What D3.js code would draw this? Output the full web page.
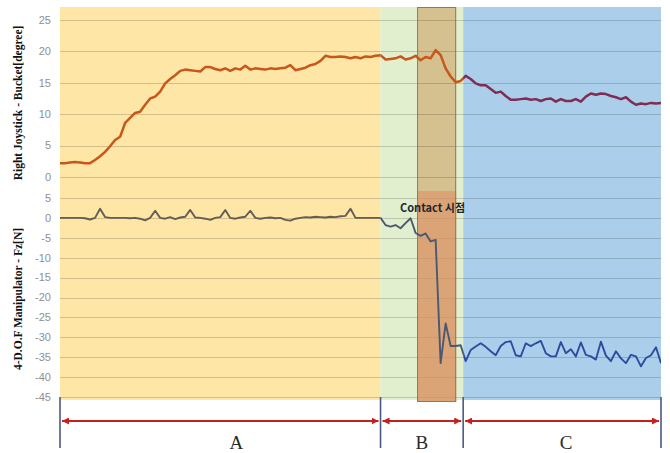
<!DOCTYPE html>
<html>
<head>
<meta charset="utf-8">
<script src="https://cdn.jsdelivr.net/npm/d3@7"></script>
<style>
  body { margin: 0; background: #fff; }
</style>
</head>
<body>
<div id="chart"></div>
<script>
// sampled values (one sample every ~5px of the original time axis)
var bucketAngle = [
  2.2, 2.2, 2.3, 2.4, 2.3, 2.2, 2.2, 2.7, 3.3, 4.0,
  4.9, 5.9, 6.4, 8.6, 9.4, 10.2, 10.4, 11.5, 12.5, 12.8,
  13.6, 14.9, 15.6, 16.2, 16.9, 17.1, 17.0, 16.9, 16.8, 17.5,
  17.5, 17.2, 17.0, 17.3, 16.9, 17.3, 17.1, 17.7, 17.1, 17.3,
  17.2, 17.1, 17.3, 17.2, 17.3, 17.4, 17.8, 17.0, 17.2, 17.4,
  17.8, 18.0, 18.5, 19.3, 19.1, 19.1, 19.2, 19.1, 18.9, 19.1,
  18.9, 19.2, 19.1, 19.3, 19.4, 18.7, 18.8, 18.9, 19.2, 18.7,
  18.9, 19.3, 18.6, 19.1, 18.9, 20.2, 19.4, 17.3, 16.0, 15.1,
  15.3, 16.1, 15.6, 14.9, 14.6, 14.6, 14.0, 13.4, 13.6, 12.9,
  12.3, 12.3, 12.4, 12.5, 12.3, 12.4, 12.1, 12.4, 12.5, 12.0,
  12.4, 12.1, 12.1, 12.4, 12.0, 12.8, 13.3, 13.1, 13.3, 13.2,
  12.9, 12.7, 12.4, 12.7, 12.0, 11.5, 11.7, 11.6, 11.8, 11.7,
  11.8
];

var forceFz = [
  0, 0, 0, 0, 0, -0.1, -0.4, 0, 2.3, 0.2,
  0, 0, 0, 0, -0.1, 0, -0.2, -0.6, 0, 1.8,
  0, -0.2, 0.2, -0.3, 0.1, 0.3, 2.0, 0.1, 0, -0.2,
  -0.5, 0, 0.2, 2.0, 0, -0.2, 0.1, 0.3, 1.8, 0,
  -0.2, 0, 0.1, -0.1, 0, -0.5, -0.7, -0.2, 0, 0.2,
  0.1, 0.3, 0.2, 0.1, 0.3, 0.2, 0.4, 0.5, 2.3, 0,
  0, 0, 0, 0, 0, -1.8, -2.2, -1.8, -2.6, -1.3,
  -0.1, -3.8, -4.5, -3.9, -5.9, -5.5, -36.5, -26.5, -32.2, -32.2,
  -32.0, -36.0, -33.2, -32.3, -31.5, -32.4, -33.5, -34.5, -32.2, -31.2,
  -31.0, -34.5, -34.8, -31.5, -32.2, -31.5, -30.9, -34.0, -34.8, -34.8,
  -31.2, -34.0, -33.0, -34.8, -31.3, -34.4, -34.8, -35.6, -31.1, -34.6,
  -36.0, -33.5, -35.3, -36.5, -34.4, -34.8, -37.3, -35.2, -34.5, -32.5,
  -36.5
];

var topTicks = [0, 5, 10, 15, 20, 25];
var bottomTicks = [5, 0, -5, -10, -15, -20, -25, -30, -35, -40, -45];

// phases in sample units
var phaseNames = ["A", "B", "C"];
var phaseStart = [0, 64, 80.5];
var phaseEnd = [64, 80.5, 120];
var contactWindow = [71.3, 79.1];
var contactLabel = "Contact 시점";

var topTitle = "Right Joystick - Bucket[degree]";
var bottomTitle = "4-D.O.F Manipulator - Fz[N]";

var W = 670, H = 453;
var plotTop = 7, plotBottom = 400;

var svg = d3.select("#chart")
  .append("svg")
    .attr("width", W)
    .attr("height", H);

var x = d3.scaleLinear().domain([0, bucketAngle.length - 1]).range([60, 661]);
var yTop = d3.scaleLinear().domain([0, 25]).range([177, 20]);
var yBot = d3.scaleLinear().domain([-45, 5]).range([397, 198]);

var phaseFill = ["#fde6a6", "#e2efcf", "#abcfea"];
var topColor = ["#c9561b", "#c9561b", "#7f2d52"];
var botColor = ["#655d55", "#4a5870", "#2c4c9e"];

// background shading per phase
svg.selectAll("rect.phase")
  .data(phaseNames)
  .enter().append("rect")
    .attr("class", "phase")
    .attr("x", function(d, i) { return x(phaseStart[i]); })
    .attr("y", plotTop)
    .attr("width", function(d, i) { return x(phaseEnd[i]) - x(phaseStart[i]); })
    .attr("height", plotBottom - plotTop)
    .attr("fill", function(d, i) { return phaseFill[i]; });

// contact window (under the gridlines)
var cx0 = x(contactWindow[0]), cx1 = x(contactWindow[1]);
svg.append("rect")
  .attr("x", cx0).attr("y", plotTop)
  .attr("width", cx1 - cx0).attr("height", 191 - plotTop)
  .attr("fill", "#d5c08f");
svg.append("rect")
  .attr("x", cx0).attr("y", 191)
  .attr("width", cx1 - cx0).attr("height", 402 - 191)
  .attr("fill", "#dba476");

// gridlines
var grid = svg.append("g")
  .attr("stroke", "#000")
  .attr("stroke-opacity", 0.17)
  .attr("stroke-width", 1);

grid.selectAll("line.gt")
  .data(topTicks)
  .enter().append("line")
    .attr("x1", x(0)).attr("x2", x(120))
    .attr("y1", function(d) { return Math.round(yTop(d)) + 0.5; })
    .attr("y2", function(d) { return Math.round(yTop(d)) + 0.5; });

grid.selectAll("line.gb")
  .data(bottomTicks)
  .enter().append("line")
    .attr("x1", x(0)).attr("x2", x(120))
    .attr("y1", function(d) { return Math.round(yBot(d)) + 0.5; })
    .attr("y2", function(d) { return Math.round(yBot(d)) + 0.5; });

// soften the gridlines inside the lower part of the contact window
svg.append("rect")
  .attr("x", cx0).attr("y", 191)
  .attr("width", cx1 - cx0).attr("height", 402 - 191)
  .attr("fill", "#dba476").attr("fill-opacity", 0.7);

svg.append("rect")
  .attr("x", cx0 + 0.5).attr("y", plotTop + 0.5)
  .attr("width", cx1 - cx0 - 1).attr("height", 402 - plotTop - 1)
  .attr("fill", "none")
  .attr("stroke", "#8a7a62")
  .attr("stroke-width", 1);

// clip paths per phase so each part of a line gets its own colour
var defs = svg.append("defs");
phaseNames.forEach(function(p, i) {
  defs.append("clipPath").attr("id", "clip-" + p)
    .append("rect")
      .attr("x", x(phaseStart[i]))
      .attr("y", 0)
      .attr("width", x(phaseEnd[i]) - x(phaseStart[i]))
      .attr("height", H);
});

var lineTop = d3.line()
  .x(function(d, i) { return x(i); })
  .y(function(d) { return yTop(d); });

var lineBot = d3.line()
  .x(function(d, i) { return x(i); })
  .y(function(d) { return yBot(d); });

phaseNames.forEach(function(p, i) {
  svg.append("path")
    .datum(bucketAngle)
    .attr("clip-path", "url(#clip-" + p + ")")
    .attr("fill", "none")
    .attr("stroke", topColor[i])
    .attr("stroke-width", 2.5)
    .attr("stroke-linejoin", "round")
    .attr("d", lineTop);

  svg.append("path")
    .datum(forceFz)
    .attr("clip-path", "url(#clip-" + p + ")")
    .attr("fill", "none")
    .attr("stroke", botColor[i])
    .attr("stroke-width", 1.9)
    .attr("stroke-linejoin", "round")
    .attr("d", lineBot);
});

// tick labels
var tickFont = "'Liberation Sans', Arial, sans-serif";
svg.selectAll("text.tt")
  .data(topTicks)
  .enter().append("text")
    .attr("x", 51)
    .attr("y", function(d) { return yTop(d); })
    .attr("dy", "0.35em")
    .attr("text-anchor", "end")
    .style("font-family", tickFont)
    .style("font-size", "11px")
    .attr("fill", "#8f8f8f")
    .text(function(d) { return d; });

svg.selectAll("text.tb")
  .data(bottomTicks)
  .enter().append("text")
    .attr("x", 51)
    .attr("y", function(d) { return yBot(d); })
    .attr("dy", "0.35em")
    .attr("text-anchor", "end")
    .style("font-family", tickFont)
    .style("font-size", "11px")
    .attr("fill", "#8f8f8f")
    .text(function(d) { return d; });

// axis titles
var titleFont = "'Liberation Serif', 'Times New Roman', serif";
svg.append("text")
  .attr("transform", "translate(22," + 103 + ") rotate(-90)")
  .attr("text-anchor", "middle")
  .style("font-family", titleFont)
  .style("font-size", "11.5px")
  .style("font-weight", "bold")
  .attr("fill", "#111")
  .text(topTitle);

svg.append("text")
  .attr("transform", "translate(22," + 299 + ") rotate(-90)")
  .attr("text-anchor", "middle")
  .style("font-family", titleFont)
  .style("font-size", "11.5px")
  .style("font-weight", "bold")
  .attr("fill", "#111")
  .text(bottomTitle);

// contact annotation
svg.append("text")
  .attr("x", 400)
  .attr("y", 212)
  .style("font-family", "'Noto Sans CJK KR', 'Noto Sans', sans-serif")
  .style("font-size", "11px")
  .style("font-weight", "bold")
  .attr("fill", "#1e2632")
  .text(contactLabel);

// phase brackets below the plot
var bounds = [phaseStart[0]].concat(phaseEnd);
svg.selectAll("line.sep")
  .data(bounds)
  .enter().append("line")
    .attr("x1", function(d) { return x(d); })
    .attr("x2", function(d) { return x(d); })
    .attr("y1", 397)
    .attr("y2", 448)
    .attr("stroke", "#4b5a82")
    .attr("stroke-width", 1.6);

defs.append("marker")
  .attr("id", "arrow")
  .attr("viewBox", "0 0 10 10")
  .attr("refX", 10).attr("refY", 5)
  .attr("markerWidth", 7).attr("markerHeight", 7)
  .attr("markerUnits", "userSpaceOnUse")
  .attr("orient", "auto-start-reverse")
  .append("path")
    .attr("d", "M0,0 L10,5 L0,10 z")
    .attr("fill", "#c42020");

svg.selectAll("line.span")
  .data(phaseNames)
  .enter().append("line")
    .attr("x1", function(d, i) { return x(phaseStart[i]) + 2; })
    .attr("x2", function(d, i) { return x(phaseEnd[i]) - 2; })
    .attr("y1", 421)
    .attr("y2", 421)
    .attr("stroke", "#c42020")
    .attr("stroke-width", 2)
    .attr("marker-start", "url(#arrow)")
    .attr("marker-end", "url(#arrow)");

var labelShift = [16, 0, 4];
svg.selectAll("text.phase")
  .data(phaseNames)
  .enter().append("text")
    .attr("x", function(d, i) { return (x(phaseStart[i]) + x(phaseEnd[i])) / 2 + labelShift[i]; })
    .attr("y", 449)
    .attr("text-anchor", "middle")
    .style("font-family", titleFont)
    .style("font-size", "19px")
    .attr("fill", "#2a2a2a")
    .text(function(d) { return d; });
</script>
</body>
</html>
